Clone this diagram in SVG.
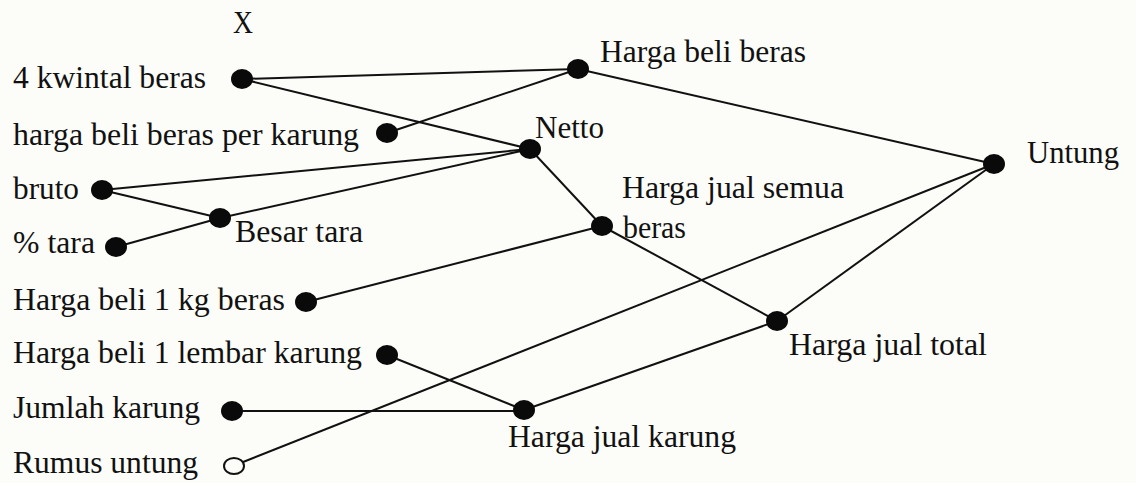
<svg xmlns="http://www.w3.org/2000/svg" width="1136" height="483" viewBox="0 0 1136 483">
  <style>
    .lbl { font-family: "Liberation Serif", "Times New Roman", Times, serif; font-size: 31.5px; fill: #111; }
    .edge { stroke: #111; stroke-width: 2; fill: none; }
    .dot { fill: #0a0a0a; }
    .hollow { fill: #fcfcf8; stroke: #111; stroke-width: 2; }
  </style>
  <rect width="1136" height="483" fill="#fcfcf8"/>

  <text class="lbl" x="233" y="33" textLength="20" lengthAdjust="spacingAndGlyphs">X</text>

  <!-- connectors -->
  <g id="connectors">
    <line class="edge" x1="242" y1="79" x2="578" y2="69"/>
    <line class="edge" x1="242" y1="79" x2="530" y2="149"/>
    <line class="edge" x1="387" y1="133" x2="578" y2="69"/>
    <line class="edge" x1="102" y1="190" x2="530" y2="149"/>
    <line class="edge" x1="102" y1="190" x2="220" y2="218"/>
    <line class="edge" x1="116" y1="247" x2="220" y2="218"/>
    <line class="edge" x1="220" y1="218" x2="530" y2="149"/>
    <line class="edge" x1="530" y1="149" x2="602" y2="226"/>
    <line class="edge" x1="578" y1="69" x2="994" y2="164"/>
    <line class="edge" x1="602" y1="226" x2="777" y2="321"/>
    <line class="edge" x1="306" y1="302" x2="602" y2="226"/>
    <line class="edge" x1="387" y1="355" x2="524" y2="410"/>
    <line class="edge" x1="232" y1="411" x2="524" y2="411"/>
    <line class="edge" x1="524" y1="410" x2="777" y2="321"/>
    <line class="edge" x1="777" y1="321" x2="994" y2="164"/>
    <line class="edge" x1="233" y1="466" x2="994" y2="164"/>
  </g>

  <g id="n-kwintal">
    <ellipse class="dot" cx="242" cy="79" rx="11" ry="10"/>
    <text class="lbl" x="13" y="88" textLength="193" lengthAdjust="spacingAndGlyphs">4 kwintal beras</text>
  </g>
  <g id="n-harga-beli-beras">
    <ellipse class="dot" cx="578" cy="69" rx="11" ry="10"/>
    <text class="lbl" x="600" y="62" textLength="206" lengthAdjust="spacingAndGlyphs">Harga beli beras</text>
  </g>
  <g id="n-per-karung">
    <ellipse class="dot" cx="387" cy="133" rx="11" ry="10"/>
    <text class="lbl" x="13" y="145" textLength="346" lengthAdjust="spacingAndGlyphs">harga beli beras per karung</text>
  </g>
  <g id="n-netto">
    <ellipse class="dot" cx="530" cy="149" rx="11" ry="10"/>
    <text class="lbl" x="535" y="138" textLength="69" lengthAdjust="spacingAndGlyphs">Netto</text>
  </g>
  <g id="n-bruto">
    <ellipse class="dot" cx="102" cy="190" rx="11" ry="10"/>
    <text class="lbl" x="13" y="199" textLength="66" lengthAdjust="spacingAndGlyphs">bruto</text>
  </g>
  <g id="n-besar-tara">
    <ellipse class="dot" cx="220" cy="218" rx="11" ry="10"/>
    <text class="lbl" x="235" y="242" textLength="128" lengthAdjust="spacingAndGlyphs">Besar tara</text>
  </g>
  <g id="n-tara">
    <ellipse class="dot" cx="116" cy="247" rx="11" ry="10"/>
    <text class="lbl" x="13" y="253" textLength="82" lengthAdjust="spacingAndGlyphs">% tara</text>
  </g>
  <g id="n-harga-jual-semua">
    <ellipse class="dot" cx="602" cy="226" rx="11" ry="10"/>
    <text class="lbl" x="622" y="198" textLength="222" lengthAdjust="spacingAndGlyphs">Harga jual semua</text>
    <text class="lbl" x="623" y="238" textLength="63" lengthAdjust="spacingAndGlyphs">beras</text>
  </g>
  <g id="n-untung">
    <ellipse class="dot" cx="994" cy="164" rx="11" ry="10"/>
    <text class="lbl" x="1027" y="163" textLength="92" lengthAdjust="spacingAndGlyphs">Untung</text>
  </g>
  <g id="n-harga-beli-kg">
    <ellipse class="dot" cx="306" cy="302" rx="11" ry="10"/>
    <text class="lbl" x="13" y="310" textLength="272" lengthAdjust="spacingAndGlyphs">Harga beli 1 kg beras</text>
  </g>
  <g id="n-harga-jual-total">
    <ellipse class="dot" cx="777" cy="321" rx="11" ry="10"/>
    <text class="lbl" x="789" y="355" textLength="198" lengthAdjust="spacingAndGlyphs">Harga jual total</text>
  </g>
  <g id="n-harga-beli-lembar">
    <ellipse class="dot" cx="387" cy="355" rx="11" ry="10"/>
    <text class="lbl" x="13" y="363" textLength="349" lengthAdjust="spacingAndGlyphs">Harga beli 1 lembar karung</text>
  </g>
  <g id="n-jumlah-karung">
    <ellipse class="dot" cx="232" cy="411" rx="11" ry="10"/>
    <text class="lbl" x="13" y="418" textLength="187" lengthAdjust="spacingAndGlyphs">Jumlah karung</text>
  </g>
  <g id="n-harga-jual-karung">
    <ellipse class="dot" cx="524" cy="410" rx="11" ry="10"/>
    <text class="lbl" x="508" y="447" textLength="228" lengthAdjust="spacingAndGlyphs">Harga jual karung</text>
  </g>
  <g id="n-rumus-untung">
    <ellipse class="hollow" cx="234" cy="466" rx="10" ry="8"/>
    <text class="lbl" x="13" y="473" textLength="185" lengthAdjust="spacingAndGlyphs">Rumus untung</text>
  </g>
</svg>
